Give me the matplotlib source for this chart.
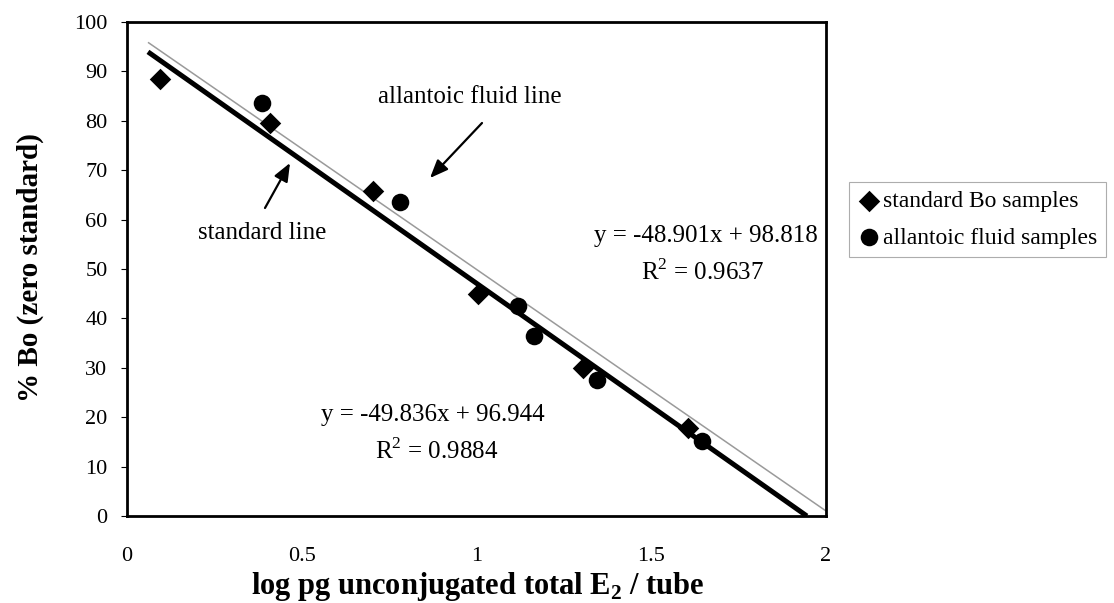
import matplotlib
matplotlib.use("Agg")
import matplotlib.pyplot as plt
import numpy as np

# Data
std_x = [0.095, 0.41, 0.705, 1.005, 1.305, 1.605]
std_y = [88.5, 79.6, 65.8, 44.9, 30.0, 17.8]
af_x = [0.385, 0.78, 1.12, 1.165, 1.345, 1.645]
af_y = [83.6, 63.6, 42.6, 36.5, 27.6, 15.2]
std_slope, std_int = -49.836, 96.944
af_slope, af_int = -48.901, 98.818
x_ticks = [0, 0.5, 1, 1.5, 2]
x_tick_labels = ["0", "0.5", "1", "1.5", "2"]
y_ticks = list(range(0, 101, 10))

plt.rcParams['font.family'] = ['Liberation Serif', 'DejaVu Serif']
plt.rcParams['mathtext.fontset'] = 'custom'
plt.rcParams['mathtext.rm'] = 'Liberation Serif'
plt.rcParams['mathtext.bf'] = 'Liberation Serif:bold'

fig = plt.figure(figsize=(11.14, 6.03), dpi=100)
ax = fig.add_axes([127 / 1114, 87 / 603, 699 / 1114, 494 / 603])

# trendlines
x0 = 0.06
xs_end = min(-std_int / std_slope, 2.0)
xa_end = min(-af_int / af_slope, 2.0)
xs = np.array([x0, xs_end])
xa = np.array([x0, xa_end])
ax.plot(xa, af_slope * xa + af_int, color='#9a9a9a', lw=1.1, zorder=2,
        solid_capstyle='butt')
ax.plot(xs, std_slope * xs + std_int, color='black', lw=3.6, zorder=3,
        solid_capstyle='butt')

ax.scatter(std_x, std_y, marker='D', s=120, color='black', zorder=4,
           linewidths=0, label='standard Bo samples')
ax.scatter(af_x, af_y, marker='o', s=160, color='black', zorder=4,
           linewidths=0, label='allantoic fluid samples')

ax.set_xlim(0, 2)
ax.set_ylim(0, 100)
ax.set_xticks(x_ticks)
ax.set_xticklabels(x_tick_labels)
ax.set_yticks(y_ticks)
ax.tick_params(axis='y', direction='out', length=4, width=0.8, labelsize=16, pad=10)
ax.tick_params(axis='x', length=0, labelsize=16, pad=22)
for sp in ax.spines.values():
    sp.set_linewidth(2.0)

ax.set_xlabel(r'log pg unconjugated total E$_\mathbf{2}$ / tube', fontsize=22,
              fontweight='bold')
ax.xaxis.set_label_coords(478 / 1114, 1 - 570 / 603, transform=fig.transFigure)
ax.set_ylabel('% Bo (zero standard)', fontsize=21, fontweight='bold')
ax.yaxis.set_label_coords(44 / 1114, 1 - 268 / 603, transform=fig.transFigure)

def px2d(px, py):
    return ((px - 127) / 349.5, (516 - py) / 4.94)

fs = 18
ax.text(*px2d(470, 97), 'allantoic fluid line', fontsize=fs, ha='center', va='center')
ax.text(*px2d(262, 233), 'standard line', fontsize=fs, ha='center', va='center')
ax.text(*px2d(706, 236), 'y = -48.901x + 98.818', fontsize=fs, ha='center', va='center')
ax.text(*px2d(702, 272), r'R$^2$ = 0.9637', fontsize=fs, ha='center', va='center')
ax.text(*px2d(433, 415), 'y = -49.836x + 96.944', fontsize=fs, ha='center', va='center')
ax.text(*px2d(437, 451), r'R$^2$ = 0.9884', fontsize=fs, ha='center', va='center')

ax.annotate('', xy=px2d(430, 178), xytext=px2d(482, 123),
            arrowprops=dict(arrowstyle='-|>,head_length=1.1,head_width=0.45',
                            color='black', lw=1.6, shrinkA=0, shrinkB=0))
ax.annotate('', xy=px2d(290, 163), xytext=px2d(265, 208),
            arrowprops=dict(arrowstyle='-|>,head_length=1.1,head_width=0.45',
                            color='black', lw=1.6, shrinkA=0, shrinkB=0))

leg = ax.legend(loc='upper left', bbox_to_anchor=(849 / 1114, 1 - 182 / 603),
                bbox_transform=fig.transFigure, fontsize=17, frameon=True,
                fancybox=False, edgecolor='#999999', handletextpad=0.1,
                handlelength=1.0, borderpad=0.35, labelspacing=0.65,
                borderaxespad=0)
leg.get_frame().set_linewidth(0.8)

fig.savefig('out.png', dpi=100)
